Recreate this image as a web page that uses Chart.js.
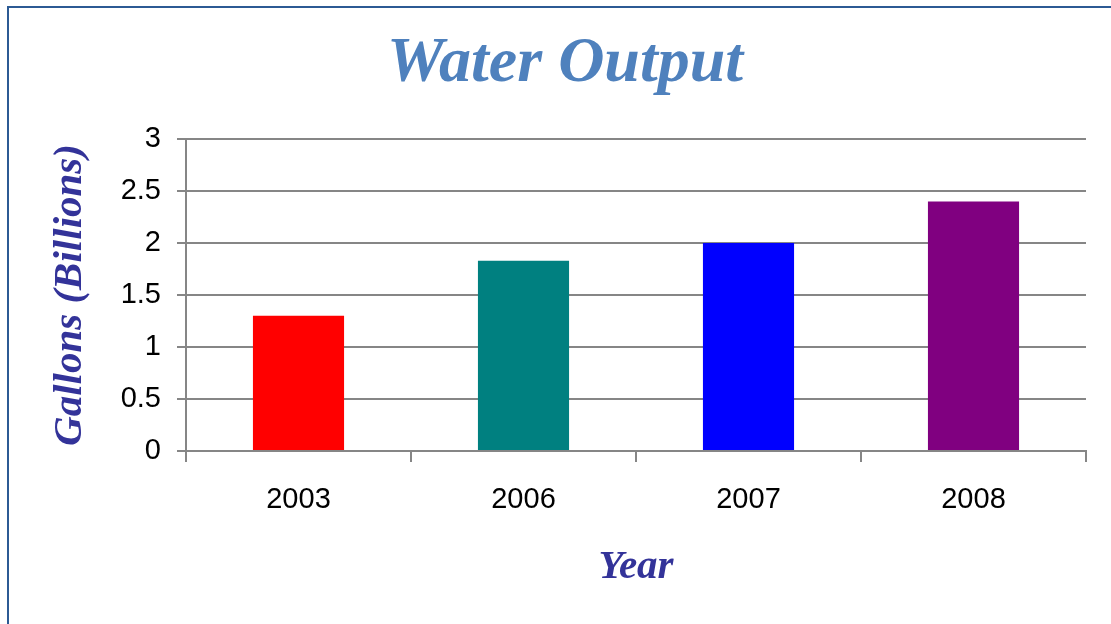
<!DOCTYPE html>
<html>
<head>
<meta charset="utf-8">
<script src="https://cdn.jsdelivr.net/npm/chart.js@4.4.1/dist/chart.umd.min.js"></script>
<style>
  html, body { margin: 0; padding: 0; background: #ffffff; }
  #wrap { width: 1111px; height: 624px; position: relative; }
</style>
</head>
<body>
<div id="wrap"><canvas id="c" width="1111" height="624"></canvas></div>
<script>
const categories = ['2003', '2006', '2007', '2008'];
const values = [1.3, 1.83, 2.0, 2.4];
const barColors = ['#FF0000', '#008080', '#0000FF', '#800080'];
const yTickValues = [0, 0.5, 1, 1.5, 2, 2.5, 3];
const chartTitle = 'Water Output';
const xTitle = 'Year';
const yTitle = 'Gallons (Billions)';

const frame = {
  id: 'frame',
  beforeDraw(chart) {
    const ctx = chart.ctx;
    ctx.save();
    ctx.fillStyle = '#ffffff';
    ctx.fillRect(0, 0, chart.width, chart.height);
    ctx.strokeStyle = '#2C5A94';
    ctx.lineWidth = 2;
    ctx.beginPath();
    ctx.moveTo(8, chart.height + 2);
    ctx.lineTo(8, 7);
    ctx.lineTo(chart.width + 2, 7);
    ctx.stroke();
    ctx.restore();
  }
};

const gridGray = '#868686';
const serif = '"Liberation Serif", "DejaVu Serif", serif';
const sans = '"Liberation Sans", Arial, sans-serif';

new Chart(document.getElementById('c'), {
  type: 'bar',
  data: {
    labels: categories,
    datasets: [{
      data: values,
      backgroundColor: barColors,
      borderWidth: 0,
      barPercentage: 0.405,
      categoryPercentage: 1.0
    }]
  },
  options: {
    responsive: false,
    animation: false,
    devicePixelRatio: 1,
    layout: { padding: { left: 44, right: 25, top: 0, bottom: 0 } },
    plugins: {
      legend: { display: false },
      tooltip: { enabled: false },
      title: {
        display: true,
        text: chartTitle,
        color: '#4F81BD',
        font: { family: serif, size: 64, style: 'italic', weight: 'bold', lineHeight: 1.2 },
        padding: { top: 26, bottom: 36.2 }
      }
    },
    scales: {
      x: {
        grid: { offset: true, drawOnChartArea: false, drawTicks: true, tickLength: 11, color: gridGray, lineWidth: 2 },
        border: { display: true, color: gridGray, width: 2 },
        ticks: { color: '#000000', font: { family: sans, size: 29 }, padding: 21, maxRotation: 0 },
        title: {
          display: true, text: xTitle, color: '#333399',
          font: { family: serif, size: 41, style: 'italic', weight: 'bold', lineHeight: 1.2 },
          padding: { top: 0, bottom: 32.4 }
        },
        afterFit(scale) { scale.height = 173; }
      },
      y: {
        min: 0, max: 3,
        afterBuildTicks(scale) { scale.ticks = yTickValues.map(v => ({ value: v })); },
        grid: { color: gridGray, lineWidth: 2, drawTicks: true, tickLength: 9 },
        border: { display: true, color: gridGray, width: 2 },
        ticks: {
          color: '#000000', font: { family: sans, size: 29 }, padding: 16,
          callback: (v) => String(v)
        },
        title: {
          display: true, text: yTitle, color: '#333399',
          font: { family: serif, size: 41, style: 'italic', weight: 'bold', lineHeight: 1.2 },
          padding: { top: 2, bottom: 0 }
        },
        afterFit(scale) { scale.width = 142; }
      }
    }
  },
  plugins: [frame]
});
</script>
</body>
</html>
